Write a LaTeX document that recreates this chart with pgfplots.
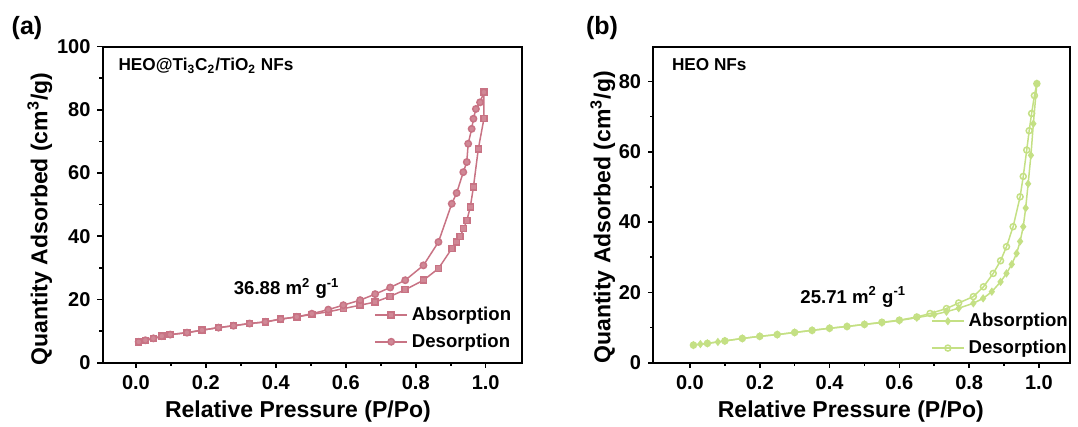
\documentclass[border=0pt]{standalone}
\usepackage{fontspec}
\setmainfont{Liberation Sans}
\usepackage{pgfplots}
\pgfplotsset{compat=1.18}
\definecolor{rosec}{RGB}{200,115,132}
\definecolor{greenc}{RGB}{196,224,132}
\newcommand{\fs}[1]{\fontsize{#1bp}{#1bp}\selectfont\bfseries}
\pgfplotsset{
  myaxis/.style={
    scale only axis,
    xmin=-0.095, xmax=1.103,
    xtick={0,0.2,0.4,0.6,0.8,1.0},
    xticklabels={0.0,0.2,0.4,0.6,0.8,1.0},
    minor x tick num=1, minor y tick num=1,
    tick align=outside, xtick pos=bottom, ytick pos=left,
    major tick length=2.6bp, minor tick length=1.6bp,
    every tick/.style={line width=0.8bp, black},
    axis line style={line width=1bp},
    /pgf/number format/assume math mode=true,
    ticklabel style={font=\fs{10}},
    xticklabel style={yshift=-0.5bp},
    label style={font=\fs{11.5}},
    xlabel={Relative Pressure (P/Po)},
    ylabel={Quantity Adsorbed (cm\textsuperscript{3}/g)},
    legend style={draw=none, fill=none, font=\fs{9.3}, row sep=1.2bp,
      anchor=south east, inner sep=1bp,
      /tikz/every even column/.append style={column sep=2bp}},
    legend cell align=left,
    clip=false,
  }
}
\begin{document}
\begin{tikzpicture}
\useasboundingbox (-51.35bp,-32.15bp) rectangle (487.65bp,181.35bp);
\node[font=\fs{12.5}] at (-37.85bp,167.35bp) {(a)};
\node[font=\fs{12.5}] at (249.65bp,167.35bp) {(b)};
\begin{axis}[myaxis, at={(0bp,0bp)}, anchor=south west,
  width=209.5bp, height=158bp, ymin=0, ymax=100,
  ytick={0,20,40,60,80,100},
  xlabel style={at={(axis description cs:0.466,-0.155)}, anchor=center},
  ylabel style={at={(axis description cs:-0.150,0.455)}, anchor=center, rotate=0},
  legend style={at={(axis description cs:0.99,0.02)}},
  legend image code/.code={\draw[#1] (0bp,0bp) -- (16bp,0bp); \draw[#1, only marks] plot coordinates {(8bp,0bp)};}
  ]
\addplot[rosec, line width=0.75bp, mark=square*, mark size=1.5bp, mark options={fill=rosec!85}] coordinates {
(0.008,6.6)(0.027,7.1)(0.050,7.7)(0.074,8.4)(0.098,8.9)(0.146,9.5)(0.189,10.3)(0.236,11.1)(0.279,11.7)(0.325,12.4)(0.370,12.9)(0.414,13.8)(0.460,14.5)(0.503,15.3)(0.550,16.1)(0.593,17.1)(0.641,18.2)(0.684,19.2)(0.727,21.0)(0.770,23.1)(0.822,26.1)(0.865,29.8)(0.903,36.1)(0.917,38.2)(0.927,40.0)(0.937,42.4)(0.946,45.0)(0.956,49.2)(0.965,55.6)(0.979,67.7)(0.995,77.2)(0.995,85.6)
};
\addlegendentry{Absorption}
\addplot[rosec, line width=0.75bp, mark=*, mark size=1.6bp, mark options={fill=rosec!85}] coordinates {
(0.995,85.6)(0.984,82.4)(0.972,80.3)(0.965,77.2)(0.960,74.0)(0.950,69.3)(0.946,63.5)(0.936,60.3)(0.917,53.7)(0.903,50.3)(0.865,38.2)(0.822,30.8)(0.770,26.1)(0.727,23.8)(0.684,21.7)(0.641,19.8)(0.593,18.2)(0.550,16.8)(0.503,15.5)(0.460,14.5)(0.414,13.8)(0.370,12.9)(0.325,12.4)(0.279,11.7)(0.236,11.1)(0.189,10.3)(0.146,9.5)(0.098,8.9)(0.074,8.4)(0.050,7.7)(0.027,7.1)(0.008,6.6)
};
\addlegendentry{Desorption}
\node[font=\fs{9.3}] at (axis cs:0.431,23.5) {36.88 m\textsuperscript{2} g\textsuperscript{-1}};
\node[font=\fs{8.6}, anchor=west] at (axis description cs:0.021,0.939) {HEO@Ti\textsubscript{3}C\textsubscript{2}/TiO\textsubscript{2} NFs};
\end{axis}
\begin{axis}[myaxis, at={(275.3bp,0bp)}, anchor=south west,
  width=208.35bp, height=158bp, ymin=0, ymax=89.9,
  ytick={0,20,40,60,80},
  xmin=-0.105, xmax=1.089,
  xlabel style={at={(axis description cs:0.474,-0.155)}, anchor=center},
  ylabel style={at={(axis description cs:-0.121,0.46)}, anchor=center},
  legend style={at={(axis description cs:1.01,0.0)}},
  legend image code/.code={\draw[#1] (0bp,0bp) -- (16bp,0bp); \draw[#1, only marks] plot coordinates {(8bp,0bp)};}
  ]
\addplot[greenc, line width=0.75bp, mark=diamond*, mark size=1.5bp, mark options={fill=greenc}] coordinates {
(0.010,5.0)(0.030,5.3)(0.050,5.5)(0.080,5.9)(0.100,6.2)(0.150,6.9)(0.200,7.5)(0.250,8.0)(0.300,8.6)(0.350,9.2)(0.400,9.8)(0.450,10.3)(0.500,10.9)(0.550,11.4)(0.600,12.0)(0.650,12.8)(0.700,13.7)(0.735,14.5)(0.770,15.5)(0.812,16.9)(0.840,18.3)(0.865,20.2)(0.890,23.0)(0.907,25.4)(0.922,28.0)(0.936,31.1)(0.946,34.5)(0.955,38.7)(0.962,44.0)(0.969,50.9)(0.977,59.0)(0.984,68.0)(0.994,79.4)
};
\addlegendentry{Absorption}
\addplot[greenc, line width=0.75bp, mark=o, mark size=1.5bp, mark options={fill=white}] coordinates {
(0.994,79.4)(0.987,76.0)(0.979,70.9)(0.972,66.0)(0.965,60.5)(0.955,53.0)(0.946,47.2)(0.926,38.7)(0.907,33.0)(0.890,29.0)(0.869,25.4)(0.841,21.6)(0.812,18.8)(0.770,17.0)(0.735,15.4)(0.688,14.0)(0.650,13.0)(0.600,12.1)(0.550,11.5)(0.500,10.9)(0.450,10.3)(0.400,9.8)(0.350,9.2)(0.300,8.6)(0.250,8.0)(0.200,7.5)(0.150,6.9)(0.100,6.2)(0.050,5.5)(0.010,5.0)
};
\addlegendentry{Desorption}
\node[font=\fs{9.3}] at (axis cs:0.468,18.7) {25.71 m\textsuperscript{2} g\textsuperscript{-1}};
\node[font=\fs{8.6}, anchor=west] at (axis description cs:0.028,0.942) {HEO NFs};
\end{axis}
\end{tikzpicture}
\end{document}
